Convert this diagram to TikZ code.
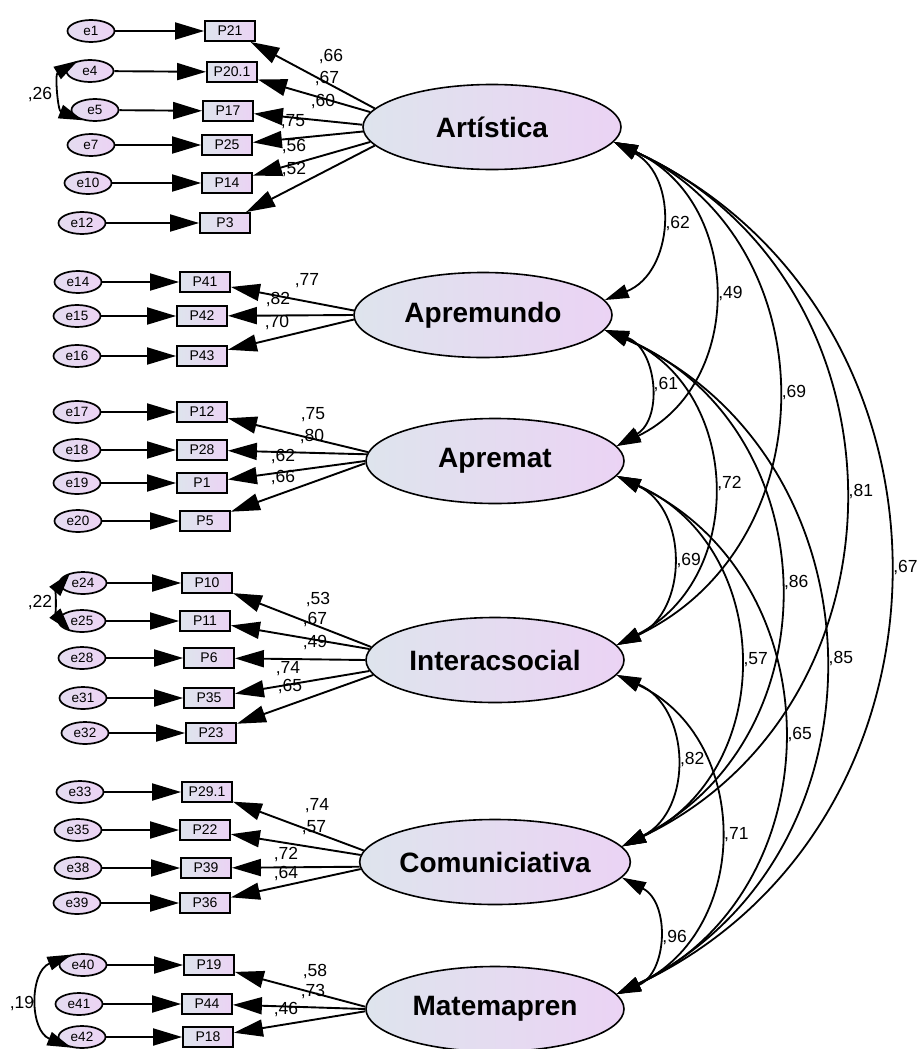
\documentclass[tikz,border=0pt]{standalone}
\usepackage{fontspec}
\setmainfont{Liberation Sans}
\usetikzlibrary{arrows.meta,shapes.geometric}
\definecolor{shl}{RGB}{222,228,237}
\definecolor{shr}{RGB}{235,211,244}
\definecolor{erl}{RGB}{228,220,240}
\definecolor{err}{RGB}{236,211,244}
\begin{document}
\begin{tikzpicture}[x=1pt,y=-1pt,
  lat/.style={ellipse, draw, line width=1.6pt, minimum width=258pt, minimum height=85pt, inner sep=0pt,
    left color=shl, right color=shr, font=\fontsize{28}{30}\selectfont\bfseries},
  errv/.style={ellipse, draw, line width=1.7pt, minimum width=47pt, minimum height=22pt, inner sep=0pt,
    left color=erl, right color=err, font=\fontsize{13.5}{14}\selectfont},
  obs/.style={rectangle, draw, line width=1.8pt, minimum width=50pt, minimum height=20pt, inner sep=0pt,
    left color=shl, right color=shr, font=\fontsize{14}{15}\selectfont},
  reg/.style={line width=1.9pt, -{Triangle[length=29pt,width=17pt]}},
  cov/.style={line width=1.8pt, {Triangle[length=24pt,width=14pt]}-{Triangle[length=24pt,width=14pt]}},
  lcov/.style={cov, bend left=65, looseness=1.2},
  num/.style={font=\fontsize{17.5}{18}\selectfont, inner sep=0pt},
  cl/.style={num, midway, anchor=west, xshift=5pt}
]
\useasboundingbox (0,0) rectangle (917,1049);
\fill[white] (0,0) rectangle (917,1049);

% latent variables
\node[lat] (art) at (492,127) {Artística};
\node[lat] (apm) at (483,315) {Apremundo};
\node[lat] (apt) at (495,461) {Apremat};
\node[lat] (int) at (495,660) {Interacsocial};
\node[lat] (com) at (495,862) {Comuniciativa};
\node[lat] (mat) at (495,1009) {Matemapren};

% Artistica block
\node[errv] (e1) at (91,31) {e1};    \node[obs] (p21) at (230,31) {P21};
\node[errv] (e4) at (90,71) {e4};    \node[obs] (p201) at (232,72) {P20.1};
\node[errv] (e5) at (95,110) {e5};   \node[obs] (p17) at (228,111) {P17};
\node[errv] (e7) at (91,145) {e7};   \node[obs] (p25) at (227,145) {P25};
\node[errv] (e10) at (88,183) {e10}; \node[obs] (p14) at (227,183) {P14};
\node[errv] (e12) at (82,223) {e12}; \node[obs] (p3) at (225,223) {P3};
% Apremundo block
\node[errv] (e14) at (78,282) {e14}; \node[obs] (p41) at (205,282) {P41};
\node[errv] (e15) at (77,316) {e15}; \node[obs] (p42) at (202,316) {P42};
\node[errv] (e16) at (77,356) {e16}; \node[obs] (p43) at (202,356) {P43};
% Apremat block
\node[errv] (e17) at (77,412) {e17}; \node[obs] (p12) at (202,412) {P12};
\node[errv] (e18) at (77,450) {e18}; \node[obs] (p28) at (202,450) {P28};
\node[errv] (e19) at (77,483) {e19}; \node[obs] (p1) at (202,483) {P1};
\node[errv] (e20) at (78,521) {e20}; \node[obs] (p5) at (205,521) {P5};
% Interacsocial block
\node[errv] (e24) at (83,583) {e24}; \node[obs] (p10) at (207,583) {P10};
\node[errv] (e25) at (82,621) {e25}; \node[obs] (p11) at (205,621) {P11};
\node[errv] (e28) at (82,658) {e28}; \node[obs] (p6) at (209,658) {P6};
\node[errv] (e31) at (83,698) {e31}; \node[obs] (p35) at (209,698) {P35};
\node[errv] (e32) at (85,733) {e32}; \node[obs] (p23) at (211,733) {P23};
% Comuniciativa block
\node[errv] (e33) at (80,792) {e33}; \node[obs] (p291) at (207,792) {P29.1};
\node[errv] (e35) at (78,830) {e35}; \node[obs] (p22) at (205,830) {P22};
\node[errv] (e38) at (78,868) {e38}; \node[obs] (p39) at (206,868) {P39};
\node[errv] (e39) at (77,903) {e39}; \node[obs] (p36) at (205,903) {P36};
% Matemapren block
\node[errv] (e40) at (83,965) {e40}; \node[obs] (p19) at (209,965) {P19};
\node[errv] (e41) at (79,1004) {e41}; \node[obs] (p44) at (207,1004) {P44};
\node[errv] (e42) at (82,1037) {e42}; \node[obs] (p18) at (208,1037) {P18};

% error -> indicator
\foreach \a/\b in {e1/p21,e4/p201,e5/p17,e7/p25,e10/p14,e12/p3,
  e14/p41,e15/p42,e16/p43,e17/p12,e18/p28,e19/p1,e20/p5,
  e24/p10,e25/p11,e28/p6,e31/p35,e32/p23,
  e33/p291,e35/p22,e38/p39,e39/p36,e40/p19,e41/p44,e42/p18}
  \draw[reg] (\a) -- (\b);

% loadings
\draw[reg] (art.171) -- (p21);
\draw[reg] (art.173.5) -- (p201);
\draw[reg] (art.179) -- (p17);
\draw[reg] (art.182) -- (p25);
\draw[reg] (art.187) -- (p14);
\draw[reg] (art.189.5) -- (p3);
\draw[reg] (apm.178) -- (p41);
\draw[reg] (apm.180) -- (p42);
\draw[reg] (apm.182) -- (p43);
\draw[reg] (apt.176) -- (p12);
\draw[reg] (apt.177) -- (p28);
\draw[reg] (apt.180) -- (p1);
\draw[reg] (apt.181) -- (p5);
\draw[reg] (int.174) -- (p10);
\draw[reg] (int.175.5) -- (p11);
\draw[reg] (int.180) -- (p6);
\draw[reg] (int.185.5) -- (p35);
\draw[reg] (int.187) -- (p23);
\draw[reg] (com.175.5) -- (p291);
\draw[reg] (com.177) -- (p22);
\draw[reg] (com.182) -- (p39);
\draw[reg] (com.183.5) -- (p36);
\draw[reg] (mat.179) -- (p19);
\draw[reg] (mat.180) -- (p44);
\draw[reg] (mat.181) -- (p18);

% loading labels
\node[num] (l1) at (331,57) {,66};
\node[num] (l2) at (327,79) {,67};
\node[num] (l3) at (323,102) {,60};
\node[num] (l4) at (293,122) {,75};
\node[num] (l5) at (294,147) {,56};
\node[num] (l6) at (294,170) {,52};
\node[num] (l7) at (307,281) {,77};
\node[num] (l8) at (278,300) {,82};
\node[num] (l9) at (277,323) {,70};
\node[num] (l10) at (313,415) {,75};
\node[num] (l11) at (312,437) {,80};
\node[num] (l12) at (283,457) {,62};
\node[num] (l13) at (283,478) {,66};
\node[num] (l14) at (318,600) {,53};
\node[num] (l15) at (315,620) {,67};
\node[num] (l16) at (315,643) {,49};
\node[num] (l17) at (288,669) {,74};
\node[num] (l18) at (290,687) {,65};
\node[num] (l19) at (317,806) {,74};
\node[num] (l20) at (314,828) {,57};
\node[num] (l21) at (286,854) {,72};
\node[num] (l22) at (286,873) {,64};
\node[num] (l23) at (315,971) {,58};
\node[num] (l24) at (313,991) {,73};
\node[num] (l25) at (286,1009) {,46};

% error covariances
\draw[cov] (e4.140) to[bend right=64, looseness=1.15] (e5.220);
\node[num] (c1) at (40,95) {,26};
\draw[cov] (e24.142) to[bend right=40, looseness=0.96] (e25.222);
\node[num] (c2) at (40,603) {,22};
\draw[cov] (e40.138) to[bend right=68, looseness=1.25] (e42.225);
\node[num] (c3) at (22,1003) {,19};

% latent covariances
\draw[lcov] (art.-7) to node[cl] {,62} (apm.7);
\draw[lcov] (art.-7) to node[cl] {,49} (apt.7);
\draw[lcov] (art.-7) to node[cl] {,69} (int.7);
\draw[lcov] (art.-7) to node[cl] {,81} (com.7);
\draw[lcov] (art.-7) to node[cl] {,67} (mat.7);
\draw[lcov] (apm.-7) to node[cl] {,61} (apt.7);
\draw[lcov] (apm.-7) to node[cl] {,72} (int.7);
\draw[lcov] (apm.-7) to node[cl] {,86} (com.7);
\draw[lcov] (apm.-7) to node[cl] {,85} (mat.7);
\draw[lcov] (apt.-7) to node[cl] {,69} (int.7);
\draw[lcov] (apt.-7) to node[cl] {,57} (com.7);
\draw[lcov] (apt.-7) to node[cl] {,65} (mat.7);
\draw[lcov] (int.-7) to node[cl] {,82} (com.7);
\draw[lcov] (int.-7) to node[cl] {,71} (mat.7);
\draw[lcov] (com.-7) to node[cl] {,96} (mat.7);
\end{tikzpicture}
\end{document}
